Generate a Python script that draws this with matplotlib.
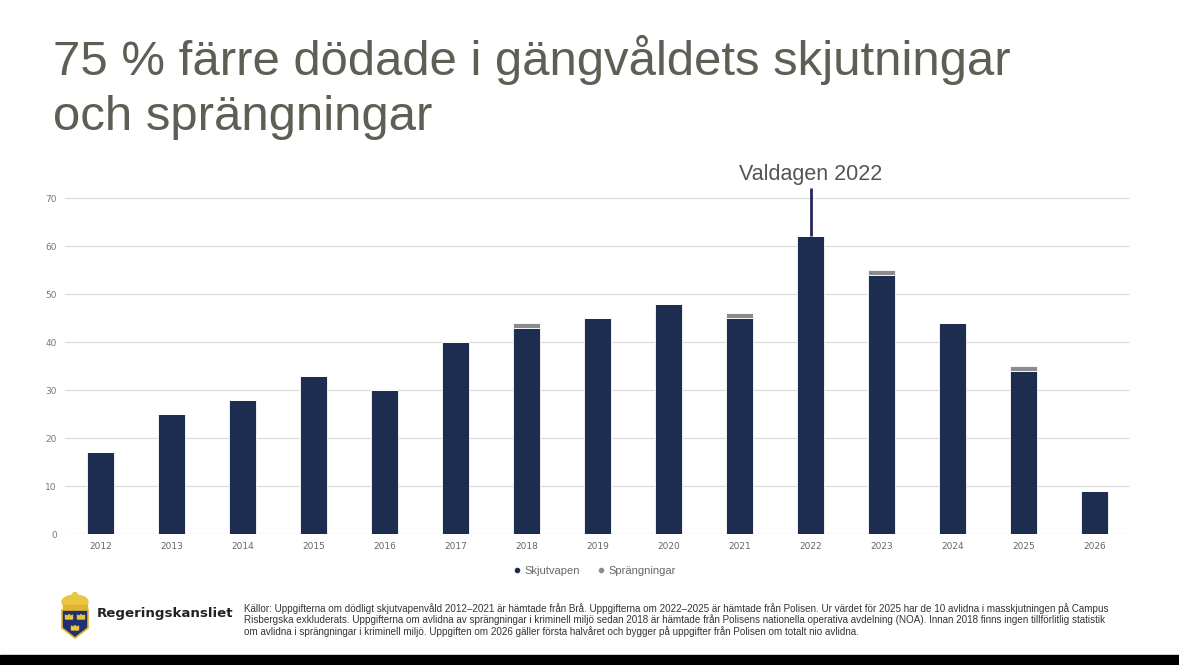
import matplotlib
matplotlib.use("Agg")
import matplotlib.pyplot as plt
from matplotlib.patches import Polygon, Rectangle, Ellipse, Circle

years = ["2012", "2013", "2014", "2015", "2016", "2017", "2018", "2019",
         "2020", "2021", "2022", "2023", "2024", "2025", "2026"]
skjutvapen = [17, 25, 28, 33, 30, 40, 43, 45, 48, 45, 62, 54, 44, 34, 9]
sprangningar = [0, 0, 0, 0, 0, 0, 1, 0, 0, 1, 0, 1, 0, 1, 0]
yticks = [0, 10, 20, 30, 40, 50, 60, 70]
valdag_year = "2022"
valdag_top = 72

title = "75 % färre dödade i gängvåldets skjutningar\noch sprängningar"
footer = ("Källor: Uppgifterna om dödligt skjutvapenvåld 2012–2021 är hämtade från Brå. Uppgifterna om 2022–2025 är hämtade från Polisen. Ur värdet för 2025 har de 10 avlidna i masskjutningen på Campus\n"
          "Risbergska exkluderats. Uppgifterna om avlidna av sprängningar i kriminell miljö sedan 2018 är hämtade från Polisens nationella operativa avdelning (NOA). Innan 2018 finns ingen tillförlitlig statistik\n"
          "om avlidna i sprängningar i kriminell miljö. Uppgiften om 2026 gäller första halvåret och bygger på uppgifter från Polisen om totalt nio avlidna.")

W, H = 1179, 665
fig = plt.figure(figsize=(W / 100, H / 100), dpi=100)
fig.patch.set_facecolor("white")

navy = "#1c2d4f"
grey = "#8c8c8c"

# Title
fig.text(53 / W, 1 - 75 / H, title.split("\n")[0], fontsize=35.4, color="#5e5e54",
         va="baseline", ha="left", family="Liberation Sans")
fig.text(53 / W, 1 - 130 / H, title.split("\n")[1], fontsize=35.4, color="#5e5e54",
         va="baseline", ha="left", family="Liberation Sans")

# Main axes: x from 65 to 1130 px, y 0 at 534, 70 at 198
y0_px, y70_px = 534, 198
per = (y0_px - y70_px) / 70.0
ymax = 74
top_px = y0_px - ymax * per
ax = fig.add_axes([65 / W, 1 - y0_px / H, (1130 - 65) / W, (y0_px - top_px) / H])
ax.set_ylim(0, ymax)
x = list(range(len(years)))
ax.set_xlim(-0.5, len(years) - 0.5)

ax.bar(x, skjutvapen, width=0.38, color=navy, edgecolor="white", linewidth=0.6,
       label="Skjutvapen", zorder=3)
ax.bar(x, sprangningar, width=0.38, bottom=skjutvapen, color=grey, edgecolor="white",
       linewidth=0.6, label="Sprängningar", zorder=3)

ax.set_yticks(yticks)
ax.set_yticklabels([str(v) for v in yticks], fontsize=6.5, color="#777777")
ax.set_xticks(x)
ax.set_xticklabels(years, fontsize=6.5, color="#666666")
ax.tick_params(length=0, pad=6)
ax.grid(axis="y", color="#dddddd", linewidth=0.9, zorder=0)
for s in ax.spines.values():
    s.set_visible(False)

# Valdagen marker
vi = years.index(valdag_year)
ax.plot([vi, vi], [skjutvapen[vi], valdag_top], color="#25265a", linewidth=2, zorder=4,
        solid_capstyle="butt")
ax.text(vi, 72.8, "Valdagen 2022", ha="center", va="bottom", fontsize=15.5,
        color="#555555", family="Liberation Sans", clip_on=False)

# Legend
leg = fig.legend(handles=[
    plt.Line2D([], [], marker="o", linestyle="", color=navy, markersize=3, label="Skjutvapen"),
    plt.Line2D([], [], marker="o", linestyle="", color=grey, markersize=3, label="Sprängningar")],
    loc="center", bbox_to_anchor=(591 / W, 1 - 571 / H), ncol=2, frameon=False,
    handletextpad=-0.3, columnspacing=0.9, labelcolor="#666666",
    prop={"family": "Liberation Sans", "size": 8})

# Footer
fig.text(244 / W, 1 - 603 / H, footer, fontsize=7.1, color="#333333", va="top",
         ha="left", family="Liberation Sans", linespacing=1.05)
fig.text(97 / W, 1 - 614 / H, "Regeringskansliet", fontsize=9.6, fontweight="bold",
         color="#222222", va="center", ha="left", family="DejaVu Sans")

# Logo
lax = fig.add_axes([57 / W, 1 - 640 / H, 36 / W, 48 / H])
lax.set_xlim(0, 36)
lax.set_ylim(0, 48)
lax.axis("off")
lax.add_patch(Ellipse((18, 38), 26, 14, color="#e9c641"))
lax.add_patch(Rectangle((6, 30), 24, 5, color="#e0b42c"))
lax.add_patch(Circle((18, 46), 2, color="#e9c641"))
shield = Polygon([(5, 30), (31, 30), (31, 12), (18, 2), (5, 12)], closed=True,
                 facecolor="#1f3170", edgecolor="#e0b42c", linewidth=1.2)
lax.add_patch(shield)
for cx, cy in [(12, 23), (24, 23), (18, 12)]:
    lax.add_patch(Polygon([(cx - 3.5, cy - 2), (cx + 3.5, cy - 2), (cx + 3.5, cy + 2),
                           (cx + 1.7, cy + 0.5), (cx, cy + 2.5), (cx - 1.7, cy + 0.5),
                           (cx - 3.5, cy + 2)], closed=True, color="#e9c641"))

# Bottom black strip
fig.add_artist(Rectangle((0, 0), 1, 10 / H, transform=fig.transFigure, color="black"))

fig.savefig("out.png", dpi=100)
